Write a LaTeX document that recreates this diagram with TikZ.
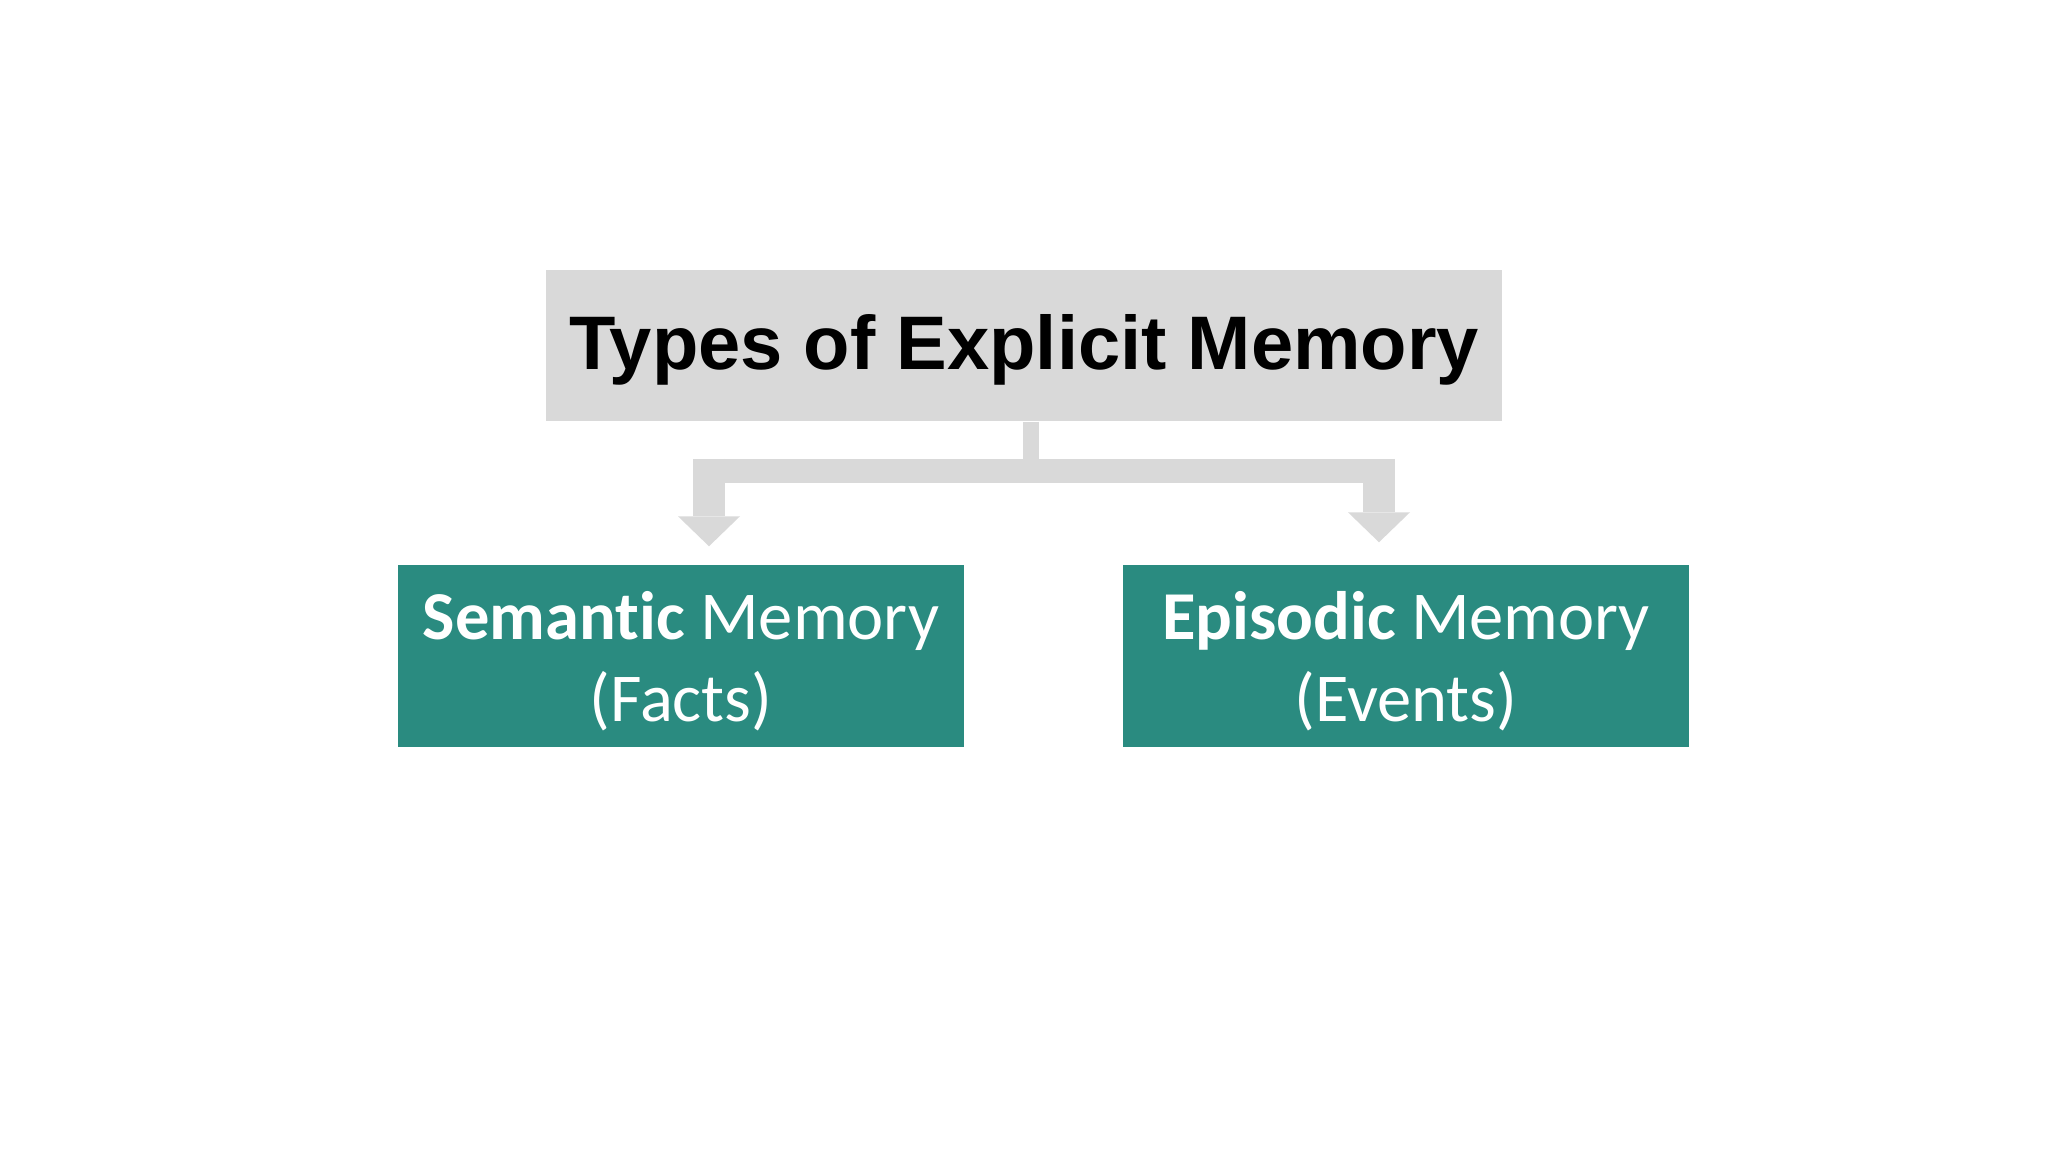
\documentclass[tikz,border=0pt]{standalone}
\usepackage{fontspec}
\setmainfont{Carlito}[Ligatures=NoCommon]
\newfontfamily\arialfont{Liberation Sans}
\usetikzlibrary{arrows.meta,positioning}
\definecolor{boxgrey}{HTML}{D9D9D9}
\definecolor{memteal}{RGB}{42,139,128}
\newcommand{\topstrut}{\rule{0pt}{16.7pt}}

\begin{document}
\begin{tikzpicture}[
        titlebox/.style={fill=boxgrey, minimum width=9.56cm, minimum height=1.51cm, inner sep=0pt,
            font=\arialfont\bfseries\fontsize{21.6}{26}\selectfont,
            execute at begin node=\rule{0pt}{18pt}},
        membox/.style={fill=memteal, text=white, minimum width=5.66cm, minimum height=1.82cm,
            inner sep=0pt, align=center, font=\fontsize{19.5}{23.3}\selectfont},
        link/.style={draw=boxgrey, line cap=butt},
        drop/.style={link, line width=0.32cm, -{Triangle[width=0.62cm,length=0.30cm,line width=0pt]}}
    ]
            \useasboundingbox (0,0) rectangle (20.48,11.52);

            \node [titlebox] (title) at (10.24,8.065) {Types of Explicit Memory};
            \node [membox] (semantic) at (6.81,4.96) {\topstrut\textbf{Semantic} Memory\\(Facts)};
            \node [membox] (episodic) at (14.06,4.96) {\topstrut\textbf{Episodic} Memory\\(Events)};

            \coordinate (split) at (10.31,6.81);
            \coordinate (barL) at (6.93,6.81);
            \coordinate (barR) at (13.95,6.81);
            \coordinate (dropL) at (7.09,6.93);
            \coordinate (dropR) at (13.79,6.93);

            \draw [link,line width=0.16cm] (title.south -| split) -- (split);
            \draw [link,line width=0.24cm] (barL) -- (barR);
            \draw [drop] (dropL) -- ([yshift=0.18cm]semantic.north -| dropL);
            \draw [drop] (dropR) -- ([yshift=0.22cm]episodic.north -| dropR);
        \end{tikzpicture}
\end{document}
